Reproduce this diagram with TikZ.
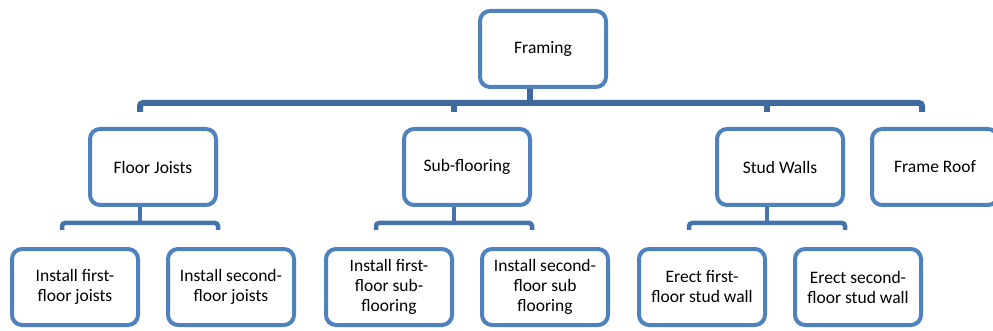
\documentclass[tikz,border=0pt]{standalone}
\usepackage{fontspec}
\setmainfont{Carlito}
\usepackage{tikz}
\usetikzlibrary{positioning, backgrounds, calc}
\definecolor{boxblue}{HTML}{4F81BD}
\definecolor{busblue}{HTML}{3F6A9E}
\definecolor{subblue}{HTML}{4673AB}
\tikzstyle{task} = [rectangle, rounded corners=10pt, minimum width=126pt, minimum height=76pt, text centered, align=center, line width=4pt, draw=boxblue, fill=white, font=\fontsize{17.5}{20}\selectfont]
\tikzstyle{bus} = [line width=6pt, draw=busblue]
\tikzstyle{branch} = [line width=4.5pt, draw=subblue]

\begin{document}
\begin{tikzpicture}[x=1pt, y=1pt]
    \clip (0,0) rectangle (993,-331);

    % Top
    \node (framing) [task] at (543,-49) {Framing};

    % Second level
    \node (fj) [task] at (153,-167) {Floor Joists};
    \node (sf) [task] at (467,-167) {Sub-flooring};
    \node (sw) [task] at (780,-167) {Stud Walls};
    \node (fr) [task] at (935,-167) {Frame Roof};

    % Third level
    \node (fj1) [task, below=40pt of fj, xshift=-78pt] {Install first-\\floor joists};
    \node (fj2) [task, below=40pt of fj, xshift=78pt] {Install second-\\floor joists};
    \node (sf1) [task, below=40pt of sf, xshift=-78pt] {Install first-\\floor sub-\\flooring};
    \node (sf2) [task, below=40pt of sf, xshift=78pt] {Install second-\\floor sub\\flooring};
    \node (sw1) [task, below=40pt of sw, xshift=-78pt] {Erect first-\\floor stud wall};
    \node (sw2) [task, below=40pt of sw, xshift=78pt] {Erect second-\\floor stud wall};

    % Connectors
    \begin{scope}[on background layer]
        \draw [bus] ([xshift=-13pt]framing.south) -- ([xshift=-13pt,yshift=24pt]sf.north -| framing.south);
        \draw [bus, rounded corners=3pt] ([xshift=-13pt,yshift=15pt]fj.north) -- ++(0,9) -| ([xshift=-13pt,yshift=15pt]fr.north);
        \draw [bus] ([xshift=-13pt,yshift=15pt]sf.north) -- ++(0,9);
        \draw [bus] ([xshift=-13pt,yshift=15pt]sw.north) -- ++(0,9);

        \foreach \p in {fj, sf, sw} {
            \draw [branch] ([xshift=-13pt]\p.south) -- ++(0,-16);
            \draw [branch, rounded corners=3pt] ([xshift=-13pt,yshift=17pt]\p1.north) -- ++(0,7) -| ([xshift=-13pt,yshift=17pt]\p2.north);
        }
    \end{scope}
\end{tikzpicture}
\end{document}
